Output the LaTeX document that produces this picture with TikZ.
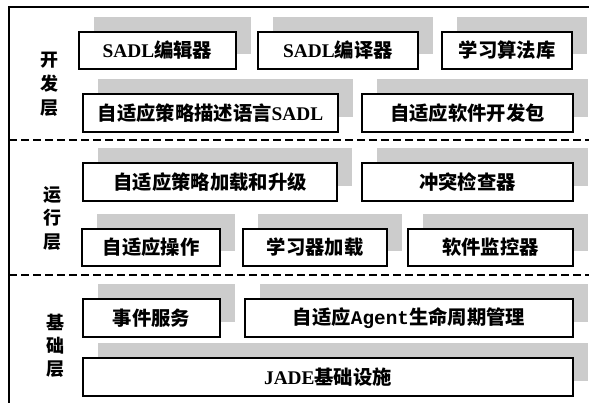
\documentclass[tikz,border=0pt]{standalone}
\usepackage{fontspec}
\setmainfont{Liberation Serif}
\newfontfamily\cjk{Noto Sans CJK SC}
\newfontfamily\mono{Liberation Mono}
\usetikzlibrary{shadows}
\tikzset{
  boxnode/.style={draw, line width=0.8pt, fill=white, inner sep=0pt,
    minimum height=37*0.75pt,
    drop shadow={shadow xshift=11.25pt, shadow yshift=11.25pt, fill=gray!40, opacity=1},
    font=\fontsize{14.5}{16}\selectfont\bfseries},
  layerlabel/.style={font=\fontsize{13.5}{15}\selectfont\bfseries\cjk, inner sep=0pt},
  sepline/.style={dashed, line width=1.3pt, dash pattern=on 6pt off 3pt}
}
\begin{document}
\begin{tikzpicture}[x=0.75pt, y=-0.75pt]
\useasboundingbox (0,0) rectangle (589,403);
% frame
\coordinate (tl) at (9,7);
\coordinate (tr) at (589,7);
\coordinate (bl) at (9,403);
\draw[line width=0.8pt] (tr) -- (tl) -- (bl);
% separators
\coordinate (s1a) at (9,140); \coordinate (s1b) at (589,140);
\coordinate (s2a) at (9,275); \coordinate (s2b) at (589,275);
\draw[sepline] (s1a) -- (s1b);
\draw[sepline] (s2a) -- (s2b);
% layer labels
\node[layerlabel] (l1) at (49,60) {开};
\node[layerlabel] (l2) at (49,84) {发};
\node[layerlabel] (l3) at (49,108) {层};
\node[layerlabel] (l4) at (52,195) {运};
\node[layerlabel] (l5) at (52,218) {行};
\node[layerlabel] (l6) at (52,242) {层};
\node[layerlabel] (l7) at (55,322) {基};
\node[layerlabel] (l8) at (55,346) {础};
\node[layerlabel] (l9) at (55,369) {层};
% development layer
\node[boxnode, minimum width=157*0.75pt] (b1) at (157.5,50.5) {SADL{\cjk 编辑器}};
\node[boxnode, minimum width=160*0.75pt] (b2) at (338,50.5) {SADL{\cjk 编译器}};
\node[boxnode, minimum width=130*0.75pt] (b3) at (507,50.5) {{\cjk 学习算法库}};
\node[boxnode, minimum width=255*0.75pt, minimum height=38*0.75pt] (b4) at (210.5,113) {{\cjk 自适应策略描述语言}SADL};
\node[boxnode, minimum width=211*0.75pt, minimum height=38*0.75pt] (b5) at (467.5,113) {{\cjk 自适应软件开发包}};
% runtime layer
\node[boxnode, minimum width=254*0.75pt, minimum height=38*0.75pt] (b6) at (210,182) {{\cjk 自适应策略加载和升级}};
\node[boxnode, minimum width=211*0.75pt, minimum height=38*0.75pt] (b7) at (467.5,182) {{\cjk 冲突检查器}};
\node[boxnode, minimum width=138*0.75pt] (b8) at (151,247.5) {{\cjk 自适应操作}};
\node[boxnode, minimum width=144*0.75pt] (b9) at (315,247.5) {{\cjk 学习器加载}};
\node[boxnode, minimum width=165*0.75pt] (b10) at (490.5,247.5) {{\cjk 软件监控器}};
% base layer
\node[boxnode, minimum width=137*0.75pt, minimum height=38*0.75pt] (b11) at (151.5,318) {{\cjk 事件服务}};
\node[boxnode, minimum width=328*0.75pt, minimum height=38*0.75pt] (b12) at (409,318) {{\cjk 自适应}{\mono Agent}{\cjk 生命周期管理}};
\node[boxnode, minimum width=490*0.75pt, minimum height=38*0.75pt] (b13) at (328,377) {JADE{\cjk 基础设施}};
\end{tikzpicture}
\end{document}
